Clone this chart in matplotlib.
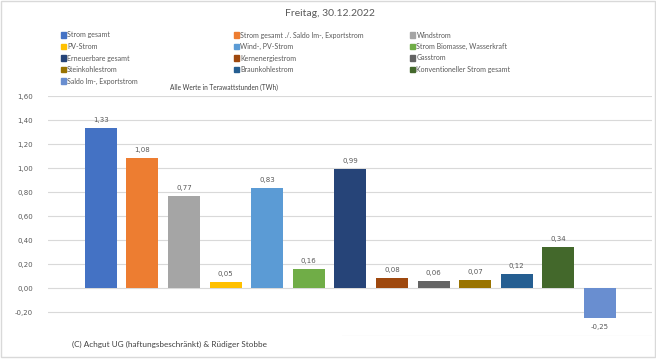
import matplotlib.pyplot as plt
from matplotlib.patches import Rectangle

plt.rcParams['font.family'] = ['Lato', 'DejaVu Sans']

labels = ['Strom gesamt', 'Strom gesamt ./. Saldo Im-, Exportstrom', 'Windstrom',
          'PV-Strom', 'Wind-, PV-Strom', 'Strom Biomasse, Wasserkraft',
          'Erneuerbare gesamt', 'Kernenergiestrom', 'Gasstrom',
          'Steinkohlestrom', 'Braunkohlestrom', 'Konventioneller Strom gesamt',
          'Saldo Im-, Exportstrom']
values = [1.33, 1.08, 0.77, 0.05, 0.83, 0.16, 0.99, 0.08, 0.06, 0.07, 0.12, 0.34, -0.25]
colors = ['#4472C4', '#ED7D31', '#A5A5A5', '#FFC000', '#5B9BD5', '#70AD47',
          '#264478', '#9E480E', '#636363', '#997300', '#255E91', '#43682B',
          '#698ED0']
yticks = [-0.4, -0.2, 0.0, 0.2, 0.4, 0.6, 0.8, 1.0, 1.2, 1.4, 1.6]

W, H = 656, 359
txt = '#595959'
num_font = 'DejaVu Sans'
fig = plt.figure(figsize=(W / 100, H / 100), dpi=100)
ax = fig.add_axes([48.3 / W, 1 - 336 / H, (652 - 48.3) / W, 240 / H])

x = list(range(len(values)))
ax.bar(x, values, width=0.77, color=colors, zorder=3)
for xi, v in zip(x, values):
    off = 8 if v >= 0 else -9
    ax.annotate(f'{v:.2f}'.replace('.', ','), (xi, v), xytext=(0, off * 0.72),
                textcoords='offset points', ha='center', va='center',
                fontsize=5, color=txt, family=num_font)

ax.set_xlim(-1.26, 12 + 1.25)
ax.set_ylim(-0.4, 1.6)
ax.set_yticks(yticks)
ax.set_yticklabels([f'{t:.2f}'.replace('.', ',') for t in yticks], fontsize=5,
                   color=txt, family=num_font)
ax.set_xticks([])
ax.tick_params(axis='y', length=0, pad=11)
ax.grid(axis='y', color='#D9D9D9', lw=0.8, zorder=0)
for s in ax.spines.values():
    s.set_visible(False)

# title and notes
fig.text(329.5 / W, 1 - 14 / H, 'Freitag, 30.12.2022', ha='center', va='center',
         fontsize=7.5, color=txt)
fig.text(170.5 / W, 1 - 87.3 / H, 'Alle Werte in Terawattstunden (TWh)',
         ha='left', va='center', fontsize=4.7, color='#404040')

# legend, three columns filled row by row like Excel
col_x = [63.3, 236.7, 412.7]
row_y = [35, 46.5, 58, 69.5, 81]
for i, (lab, c) in enumerate(zip(labels, colors)):
    r, k = divmod(i, 3)
    fig.add_artist(Rectangle(((col_x[k] - 2.6) / W, 1 - (row_y[r] + 2.6) / H),
                             5.2 / W, 5.2 / H, color=c, transform=fig.transFigure))
    fig.text((col_x[k] + 3.8) / W, 1 - row_y[r] / H, lab, ha='left', va='center',
             fontsize=5, color=txt)

# copyright box hides the lower left of the chart
fig.add_artist(Rectangle((2 / W, 1 - 356 / H), 340 / W, 22 / H, facecolor='white',
                         edgecolor='none', transform=fig.transFigure, zorder=5))
fig.text(72 / W, 1 - 344 / H, '(C) Achgut UG (haftungsbeschränkt) & Rüdiger Stobbe',
         ha='left', va='center', fontsize=5.9, color='#404040', zorder=6)

# chart border
fig.add_artist(Rectangle((1 / W, 1 - 357 / H), 654 / W, 356 / H, fill=False,
                         edgecolor='#D9D9D9', lw=1, transform=fig.transFigure, zorder=7))

fig.savefig('out.png', dpi=100)
